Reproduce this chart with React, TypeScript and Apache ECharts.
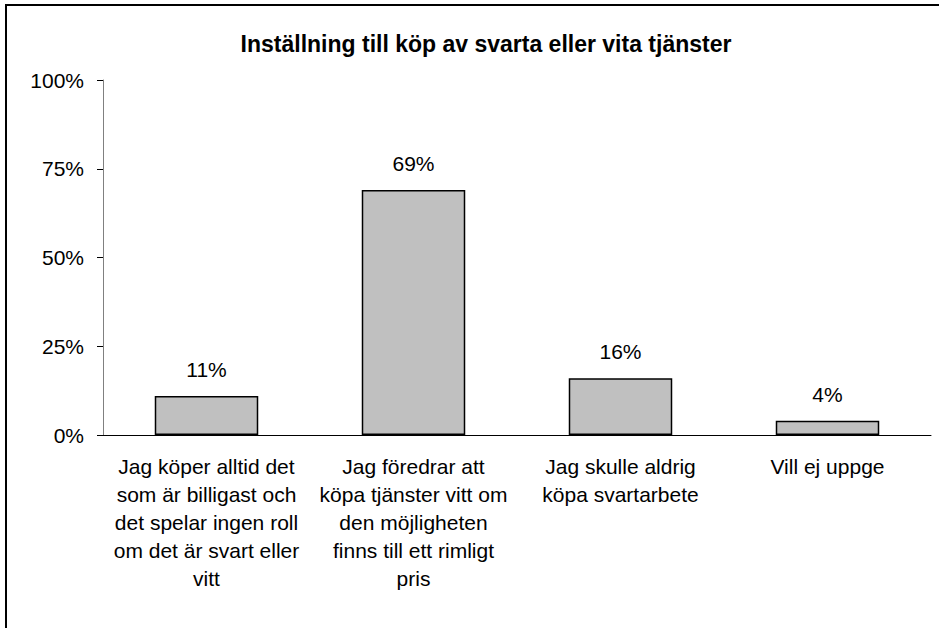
import React, { useEffect, useRef } from "react";
import * as echarts from "echarts";

const title = "Inställning till köp av svarta eller vita tjänster";
const categories = [
  "Jag köper alltid det\nsom är billigast och\ndet spelar ingen roll\nom det är svart eller\nvitt",
  "Jag föredrar att\nköpa tjänster vitt om\nden möjligheten\nfinns till ett rimligt\npris",
  "Jag skulle aldrig\nköpa svartarbete",
  "Vill ej uppge",
];
const values = [11, 69, 16, 4];
const yTicks = [0, 25, 50, 75, 100];

const FONT = "'Liberation Sans', Arial, sans-serif";

export default function App() {
  const ref = useRef<HTMLDivElement>(null);
  useEffect(() => {
    if (!ref.current) return;
    const chart = echarts.init(ref.current, null, { renderer: "svg" });
    chart.setOption({
      animation: false,
      backgroundColor: "#ffffff",
      textStyle: { fontFamily: FONT },
      title: {
        text: title,
        left: 481,
        top: 27,
        textAlign: "center",
        textStyle: { fontFamily: FONT, fontSize: 23, fontWeight: "bold", color: "#000" },
      },
      graphic: [
        {
          type: "rect",
          shape: { x: 6, y: 5, width: 1200, height: 1200 },
          style: { fill: "none", stroke: "#000", lineWidth: 2 },
          silent: true,
        },
      ],
      grid: { left: 103, right: 8, top: 80, bottom: 193, containLabel: false },
      xAxis: {
        type: "category",
        data: categories,
        axisLine: { lineStyle: { color: "#000", width: 1 } },
        axisTick: { show: false },
        axisLabel: {
          interval: 0,
          fontFamily: FONT,
          fontSize: 21,
          color: "#000",
          lineHeight: 27.8,
          margin: 18,
        },
      },
      yAxis: {
        type: "value",
        min: yTicks[0],
        max: yTicks[yTicks.length - 1],
        interval: 25,
        splitLine: { show: false },
        axisLine: { show: true, lineStyle: { color: "#808080", width: 1 } },
        axisTick: { show: true, length: 6, lineStyle: { color: "#000" } },
        axisLabel: {
          formatter: (v: number) => v + "%",
          fontFamily: FONT,
          fontSize: 21,
          color: "#000",
          margin: 19,
        },
      },
      series: [
        {
          type: "bar",
          data: values,
          barWidth: "50%",
          itemStyle: { color: "#c0c0c0", borderColor: "#000", borderWidth: 1.5 },
          label: {
            show: true,
            position: "top",
            distance: 16,
            formatter: (p: any) => p.value + "%",
            fontFamily: FONT,
            fontSize: 21,
            color: "#000",
          },
        },
      ],
    });
    return () => chart.dispose();
  }, []);
  return (
    <div
      ref={ref}
      style={{ position: "fixed", left: 0, top: 0, width: 939, height: 628 }}
    />
  );
}
